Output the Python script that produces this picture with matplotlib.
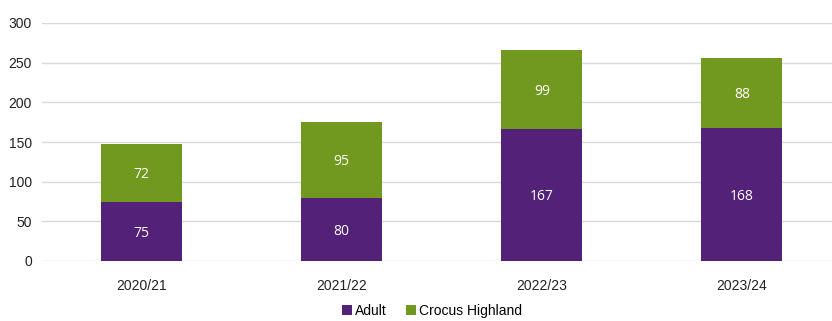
import matplotlib.pyplot as plt
import numpy as np

years = ['2020/21', '2021/22', '2022/23', '2023/24']
adult = [75, 80, 167, 168]
crocus = [72, 95, 99, 88]

purple = '#532178'
green = '#72991f'

plt.rcParams['font.family'] = ['Liberation Sans', 'DejaVu Sans']

fig = plt.figure(figsize=(8.32, 3.21), dpi=100)
ax = fig.add_axes([41.5 / 832, 60 / 321, 1 - 41.5 / 832, 238 / 321])

x = np.arange(len(years))
w = 0.405
b1 = ax.bar(x, adult, w, color=purple, label='Adult', zorder=3)
b2 = ax.bar(x, crocus, w, bottom=adult, color=green, label='Crocus Highland', zorder=3)

# value labels in the middle of each segment
for i in range(len(years)):
    ax.text(x[i], adult[i] / 2, str(adult[i]), ha='center', va='center_baseline',
            color='white', fontsize=10, family=['Open Sans', 'DejaVu Sans'], zorder=4)
    ax.text(x[i], adult[i] + crocus[i] / 2, str(crocus[i]), ha='center', va='center_baseline',
            color='white', fontsize=10, family=['Open Sans', 'DejaVu Sans'], zorder=4)

ax.set_ylim(0, 300)
ax.set_yticks(range(0, 301, 50))
ax.set_xlim(-0.5, 3.45)
ax.set_xticks(x)
ax.set_xticklabels(years)
ax.grid(axis='y', color='#d9d9d9', linewidth=1, zorder=0)
for s in ax.spines.values():
    s.set_visible(False)
ax.tick_params(axis='both', length=0, labelsize=10, colors='#222222')
ax.tick_params(axis='x', pad=13)
ax.tick_params(axis='y', pad=7)

fig.legend(handles=[b1, b2], loc='lower center', bbox_to_anchor=(432 / 832, -0.03),
           ncol=2, frameon=False, fontsize=10, handlelength=0.7, handleheight=0.7,
           handletextpad=0.2, columnspacing=1.4)

fig.savefig('out.png', dpi=100)
